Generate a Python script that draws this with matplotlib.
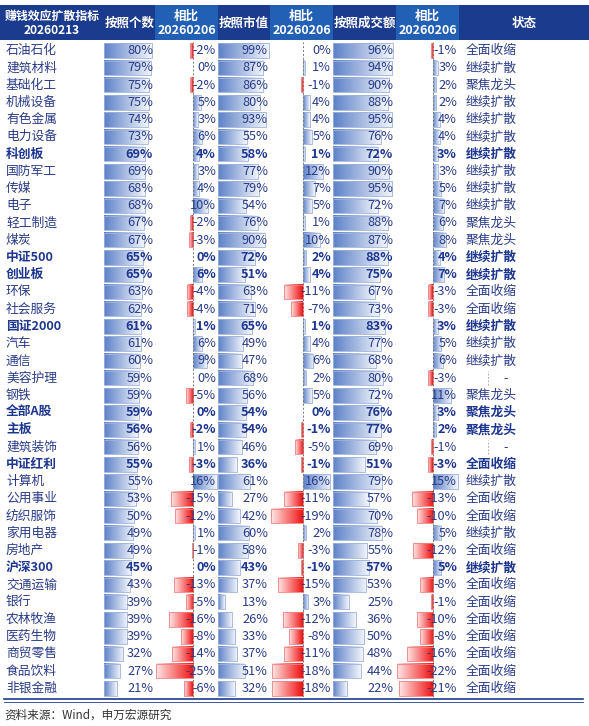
import matplotlib
matplotlib.use("Agg")
import matplotlib.pyplot as plt
import numpy as np
from matplotlib.colors import LinearSegmentedColormap

plt.rcParams['font.family'] = ['Noto Sans CJK SC', 'DejaVu Sans']

names = ["石油石化","建筑材料","基础化工","机械设备","有色金属","电力设备","科创板","国防军工","传媒","电子",
         "轻工制造","煤炭","中证500","创业板","环保","社会服务","国证2000","汽车","通信","美容护理",
         "钢铁","全部A股","主板","建筑装饰","中证红利","计算机","公用事业","纺织服饰","家用电器","房地产",
         "沪深300","交通运输","银行","农林牧渔","医药生物","商贸零售","食品饮料","非银金融"]
count = [80,79,75,75,74,73,69,69,68,68,67,67,65,65,63,62,61,61,60,59,59,59,56,56,55,55,53,50,49,49,45,43,39,39,39,32,27,21]
count_chg = [-2,0,-2,5,3,6,4,3,4,10,-2,-3,0,6,-4,-4,1,6,9,0,-5,0,-2,1,-3,16,-15,-12,1,-1,0,-13,-5,-16,-8,-14,-25,-6]
mv = [99,87,86,80,93,55,58,77,79,54,76,90,72,51,63,71,65,49,47,68,56,54,54,46,36,61,27,42,60,58,43,37,13,26,33,37,51,32]
mv_chg = [0,1,-1,4,4,5,1,12,7,5,1,10,2,4,-11,-7,1,4,6,2,5,0,-1,-5,-1,16,-11,-19,2,-3,-1,-15,3,-12,-8,-11,-18,-18]
amt = [96,94,90,88,95,76,72,90,95,72,88,87,88,75,67,73,83,77,68,80,72,76,77,69,51,79,57,70,78,55,57,53,25,36,50,48,44,22]
amt_chg = [-1,3,2,2,4,4,3,3,5,7,6,8,4,7,-3,-3,3,5,6,-3,11,3,2,-1,-3,15,-13,-10,5,-12,5,-8,-1,-10,-8,-16,-22,-21]
status = ["全面收缩","继续扩散","聚焦龙头","继续扩散","继续扩散","继续扩散","继续扩散","继续扩散","继续扩散","继续扩散",
          "聚焦龙头","聚焦龙头","继续扩散","继续扩散","全面收缩","全面收缩","继续扩散","继续扩散","继续扩散","-",
          "聚焦龙头","聚焦龙头","聚焦龙头","-","全面收缩","继续扩散","全面收缩","全面收缩","继续扩散","全面收缩",
          "继续扩散","全面收缩","全面收缩","全面收缩","全面收缩","全面收缩","全面收缩","全面收缩"]
bold_rows = {"科创板","中证500","创业板","国证2000","全部A股","主板","中证红利","沪深300"}
headers = ["赚钱效应扩散指标\n20260213","按照个数","相比\n20260206","按照市值","相比\n20260206","按照成交额","相比\n20260206","状态"]

W, H = 589, 726
fig = plt.figure(figsize=(W/100, H/100), dpi=100)
n = len(names)
top, bot = 42, 697
FS = 9.2

def fx(x): return x / W
def fy(y): return 1 - y / H

NAVY = "#1B3C8E"; LIGHT = "#2160B5"; TXT = "#2A3C88"; BTXT = "#1D3690"
blue_cm = LinearSegmentedColormap.from_list("b", ["#5E82C8", "#F2F5FB"])
red_cm = LinearSegmentedColormap.from_list("r", ["#FFE6E6", "#F01010"])

col_edges = [0, 104, 155, 218, 270, 333, 396, 459, 589]
for i, h in enumerate(headers):
    x0, x1 = col_edges[i], col_edges[i+1]
    c = LIGHT if i in (2, 4, 6) else NAVY
    fig.patches.append(plt.Rectangle((fx(x0), fy(40)), fx(x1-x0), 35/H, transform=fig.transFigure,
                                     facecolor=c, edgecolor="none"))
    fig.text(fx((x0+x1)/2), fy(23), h, color="white", fontsize=8.6 if i == 0 else 9.0, fontweight="bold",
             ha="center", va="center", linespacing=1.1)

grad = np.linspace(0, 1, 64).reshape(1, -1)

def make_ax(x0, x1, xlim):
    ax = fig.add_axes([fx(x0), fy(bot), fx(x1-x0), (bot-top)/H])
    ax.set_xlim(*xlim); ax.set_ylim(n-0.5, -0.5); ax.axis("off")
    return ax

def draw_bars(ax, vals, signed):
    h = 0.42
    for i, v in enumerate(vals):
        if v == 0: continue
        if v > 0:
            ax.imshow(grad, cmap=blue_cm, extent=(0, v, i+h, i-h), aspect="auto", zorder=1)
            ax.add_patch(plt.Rectangle((0, i-h), v, 2*h, fill=False, edgecolor="#9DB2DC", lw=0.6, zorder=2))
        else:
            ax.imshow(grad, cmap=red_cm, extent=(v, 0, i+h, i-h), aspect="auto", zorder=1)
            ax.add_patch(plt.Rectangle((v, i-h), -v, 2*h, fill=False, edgecolor="#F08080", lw=0.6, zorder=2))
    if signed:
        ax.axvline(0, color="#777777", lw=0.7, ls=(0, (2, 2)), zorder=3)

cols = [
    (count, 104, 164, (0, 100), False, 153),
    (count_chg, 155, 218, ((155-193)/1.5, (218-193)/1.5), True, 216),
    (mv, 218, 270, (0, 100), False, 268),
    (mv_chg, 270, 333, ((270-303)/1.7, (333-303)/1.7), True, 331),
    (amt, 333, 395.5, (0, 100), False, 393),
    (amt_chg, 396, 459, ((396-433)/1.64, (459-433)/1.64), True, 457),
]
row_h = (bot - top) / n
for vals, x0, x1, xl, signed, tx in cols:
    ax = make_ax(x0, x1, xl)
    draw_bars(ax, vals, signed)
    for i, v in enumerate(vals):
        b = names[i] in bold_rows
        fig.text(fx(tx), fy(top + (i+0.5)*row_h), f"{v}%", ha="right", va="center",
                 fontsize=FS, color=BTXT if b else TXT, fontweight="bold" if b else "normal")

for i, nm in enumerate(names):
    b = nm in bold_rows
    y = fy(top + (i+0.5)*row_h)
    fig.text(fx(6), y, nm, ha="left", va="center", fontsize=FS,
             color=BTXT if b else TXT, fontweight="bold" if b else "normal")
    s = status[i]
    if s == "-":
        fig.text(fx(506), y, "-", ha="center", va="center", fontsize=FS, color=TXT)
        fig.lines.append(plt.Line2D([fx(488), fx(488)], [y-0.4*row_h/H, y+0.4*row_h/H],
                                    transform=fig.transFigure, color="#999999", lw=0.6, ls=(0, (2, 2))))
    else:
        fig.text(fx(466), y, s, ha="left", va="center", fontsize=FS,
                 color=BTXT if b else TXT, fontweight="bold" if b else "normal")

for yy, lw in ((699, 1.2), (702, 0.6)):
    fig.lines.append(plt.Line2D([fx(4), fx(583)], [fy(yy), fy(yy)], transform=fig.transFigure,
                                color="#1B3C8E", lw=lw))
fig.text(fx(4), fy(715), "资料来源：Wind，申万宏源研究", ha="left", va="center", fontsize=8.4, color="#333333")

fig.savefig("out.png", dpi=100, facecolor="white")
